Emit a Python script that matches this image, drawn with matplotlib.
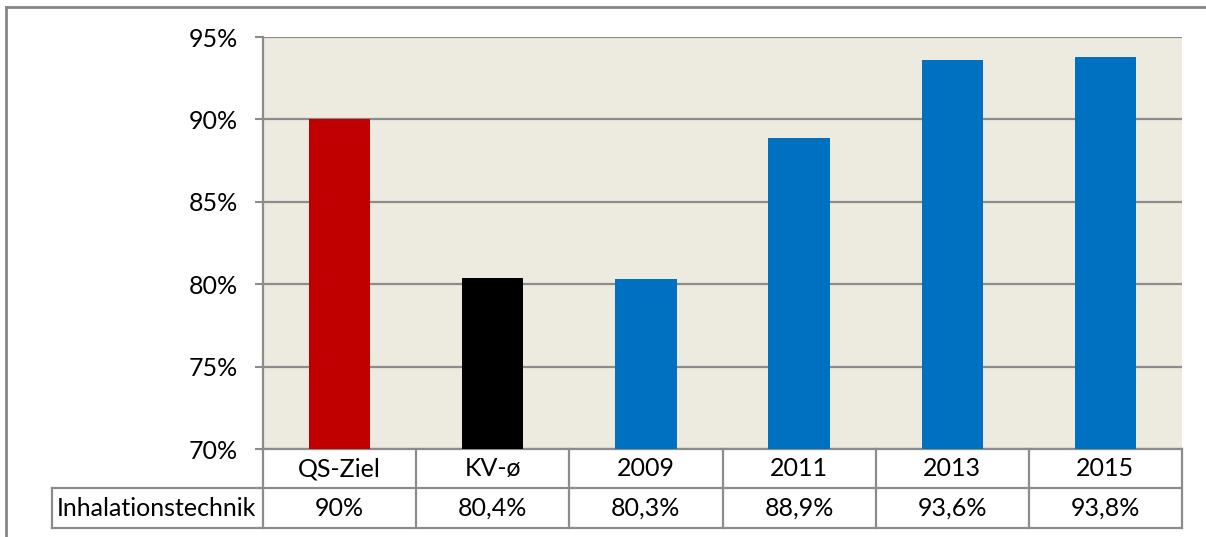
import matplotlib.pyplot as plt
import matplotlib.transforms as mtransforms
from matplotlib.lines import Line2D

categories = ['QS-Ziel', 'KV-ø', '2009', '2011', '2013', '2015']
values = [90.0, 80.4, 80.3, 88.9, 93.6, 93.8]
value_labels = ['90%', '80,4%', '80,3%', '88,9%', '93,6%', '93,8%']
row_label = 'Inhalationstechnik'
bar_colors = ['#C00000', '#000000', '#0070C0', '#0070C0', '#0070C0', '#0070C0']
yticks = [70, 75, 80, 85, 90, 95]

W, H = 1206, 537
GRAY = '#8C8C8C'
FS = 18
plt.rcParams['font.family'] = ['Lato', 'DejaVu Sans']

fig = plt.figure(figsize=(W / 100, H / 100), dpi=100)

# plot area in pixel units
left, right, top, bottom = 263, 1182, 37, 449
ax = fig.add_axes([left / W, (H - bottom) / H, (right - left) / W, (bottom - top) / H])
ax.set_facecolor('#EDEAE0')

x = range(len(categories))
ax.bar(x, values, width=0.4, color=bar_colors, zorder=3)
ax.set_xlim(-0.5, len(categories) - 0.5)
ax.set_ylim(70, 95)
ax.set_yticks(yticks)
ax.set_yticklabels([f'{t}%' for t in yticks], fontsize=FS)
ax.set_xticks([])
ax.grid(axis='y', color=GRAY, linewidth=1.6, zorder=1)
ax.tick_params(axis='y', length=6, width=1.5, color=GRAY, pad=12)
for s in ['top', 'right', 'bottom']:
    ax.spines[s].set_visible(False)
ax.spines['left'].set_color(GRAY)
ax.spines['left'].set_linewidth(1.6)

# data table under the plot area
trans = mtransforms.blended_transform_factory(ax.transData, ax.transAxes)
ph = bottom - top
r1 = -39 / ph
r2 = -79 / ph
tab_left = (52 - left) / (right - left) * len(categories) - 0.5

def hline(x0, x1, y):
    ax.add_line(Line2D([x0, x1], [y, y], transform=trans, color=GRAY,
                       linewidth=1.6, clip_on=False))

def vline(xx, y0, y1):
    ax.add_line(Line2D([xx, xx], [y0, y1], transform=trans, color=GRAY,
                       linewidth=1.6, clip_on=False))

n = len(categories)
hline(-0.5, n - 0.5, 0)
hline(tab_left, n - 0.5, r1)
hline(tab_left, n - 0.5, r2)
for i in range(n + 1):
    vline(i - 0.5, 0, r2)
vline(tab_left, r1, r2)

for i, (c, v) in enumerate(zip(categories, value_labels)):
    ax.text(i, r1 / 2, c, transform=trans, ha='center', va='center', fontsize=FS)
    ax.text(i, (r1 + r2) / 2, v, transform=trans, ha='center', va='center', fontsize=FS)
ax.text(tab_left + 0.03, (r1 + r2) / 2, row_label, transform=trans,
        ha='left', va='center', fontsize=FS)

# outer chart border (left and top visible)
fig.add_artist(Line2D([6 / W, 6 / W], [0, 1 - 7 / H], color='#868686', linewidth=2))
fig.add_artist(Line2D([6 / W, 1], [1 - 7 / H, 1 - 7 / H], color='#868686', linewidth=2))

fig.savefig('out.png', dpi=100)
